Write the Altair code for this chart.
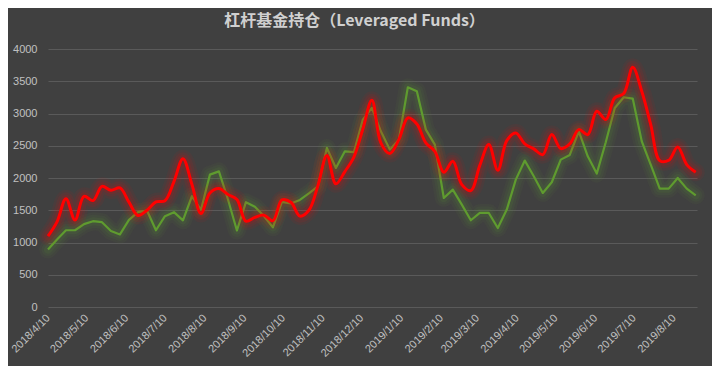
import altair as alt
import pandas as pd

# ---- data (weekly, starting 2018-04-10) ----
start_date = "2018-04-10"

red_values = [
    1098, 1320, 1680, 1350, 1716, 1650, 1871, 1810, 1846, 1625,
    1418, 1500, 1630, 1648, 1945, 2300, 1900, 1450, 1768, 1838,
    1743, 1666, 1330, 1390, 1424, 1339, 1660, 1623, 1410, 1500,
    1880, 2350, 1910, 2100, 2325, 2760, 3205, 2544, 2378, 2595,
    2931, 2838, 2544, 2414, 2089, 2259, 1897, 1805, 2195, 2518,
    2120, 2580, 2699, 2528, 2451, 2363, 2673, 2456, 2528, 2750,
    2673, 3035, 2906, 3242, 3309, 3717, 3345, 2828, 2270, 2275,
    2482, 2208, 2089,
]

green_values = [
    890, 1045, 1190, 1190, 1285, 1330, 1315, 1178, 1125, 1350,
    1470, 1495, 1190, 1408, 1470, 1343, 1717, 1505, 2052, 2103,
    1670, 1186, 1625, 1555, 1410, 1235, 1630, 1605, 1660, 1760,
    1870, 2466, 2156, 2414, 2400, 2905, 3086, 2724, 2440, 2595,
    3407, 3345, 2750, 2518, 1690, 1820, 1587, 1345, 1458, 1458,
    1225, 1510, 1975, 2270, 2027, 1768, 1934, 2285, 2358, 2725,
    2337, 2068, 2554, 3086, 3252, 3231, 2570, 2208, 1835, 1835,
    2001, 1835, 1732,
]

tick_months = [
    (2018, 4), (2018, 5), (2018, 6), (2018, 7), (2018, 8), (2018, 9),
    (2018, 10), (2018, 11), (2018, 12), (2019, 1), (2019, 2), (2019, 3),
    (2019, 4), (2019, 5), (2019, 6), (2019, 7), (2019, 8),
]
y_ticks = [0, 500, 1000, 1500, 2000, 2500, 3000, 3500, 4000]

title_text = "杠杆基金持仓（Leveraged Funds）"

# ---- build table ----
dates = pd.date_range(start_date, periods=len(red_values), freq="7D")
df = pd.DataFrame({"date": dates, "red": red_values, "green": green_values})
long_df = df.melt(id_vars="date", var_name="series", value_name="value")

BG = "#404040"
GRID = "#5a5a5a"
LABEL = "#c0c0c0"
RED = "#ff0000"
GREEN = "#5f9b2f"
FONT = "Liberation Sans"

x_enc = alt.X(
    "date:T",
    title=None,
    scale=alt.Scale(domain=[alt.DateTime(year=2018, month=4, date=10),
                            alt.DateTime(year=2019, month=8, date=28)]),
    axis=alt.Axis(
        values=[alt.DateTime(year=y, month=m, date=10) for y, m in tick_months],
        format="%Y/%-m/%-d",
        labelAngle=-45,
        labelAlign="right",
        labelBaseline="middle",
        labelPadding=9,
        labelOverlap=False,
        labelFlush=False,
        labelBound=False,
        ticks=False,
        tickSize=0,
        domain=False,
        grid=False,
        labelColor=LABEL,
        labelFont=FONT,
        labelFontSize=11,
    ),
)
y_enc = alt.Y(
    "value:Q",
    title=None,
    scale=alt.Scale(domain=[0, 4000], nice=False),
    axis=alt.Axis(
        values=y_ticks,
        format="d",
        grid=True,
        gridColor=GRID,
        gridWidth=1,
        domain=False,
        ticks=False,
        tickSize=0,
        labelPadding=11,
        labelColor=LABEL,
        labelFont=FONT,
        labelFontSize=11,
    ),
)

base = alt.Chart(long_df).encode(x=x_enc, y=y_enc)

def series_layers(name, color, interp):
    src = base.transform_filter(alt.datum.series == name)
    glows = [
        src.mark_line(color=color, strokeWidth=w, opacity=o, interpolate=interp,
                      strokeJoin="round", strokeCap="round")
        for w, o in [(18, 0.06), (13, 0.08), (8, 0.11)]
    ]
    return glows

green_glow = series_layers("green", GREEN, "linear")
red_glow = series_layers("red", RED, "catmull-rom")
green_line = base.transform_filter(alt.datum.series == "green").mark_line(
    color=GREEN, strokeWidth=2.2, interpolate="linear", strokeJoin="round")
red_line = base.transform_filter(alt.datum.series == "red").mark_line(
    color=RED, strokeWidth=3, interpolate="catmull-rom", strokeJoin="round")

chart = alt.layer(*green_glow, green_line, *red_glow, red_line).properties(
    width=649,
    height=258,
    autosize=alt.AutoSizeParams(type="none"),
    padding={"left": 40, "top": 41, "right": 15, "bottom": 59},
    background=BG,
    title=alt.TitleParams(
        text=title_text,
        anchor="middle",
        dx=-18,
        offset=14,
        font="Noto Sans CJK SC",
        fontSize=16,
        fontWeight="bold",
        color="#d0d0d0",
    ),
).configure_view(stroke=None)

chart.save("out.html", embed_options={"renderer": "svg", "actions": False})
